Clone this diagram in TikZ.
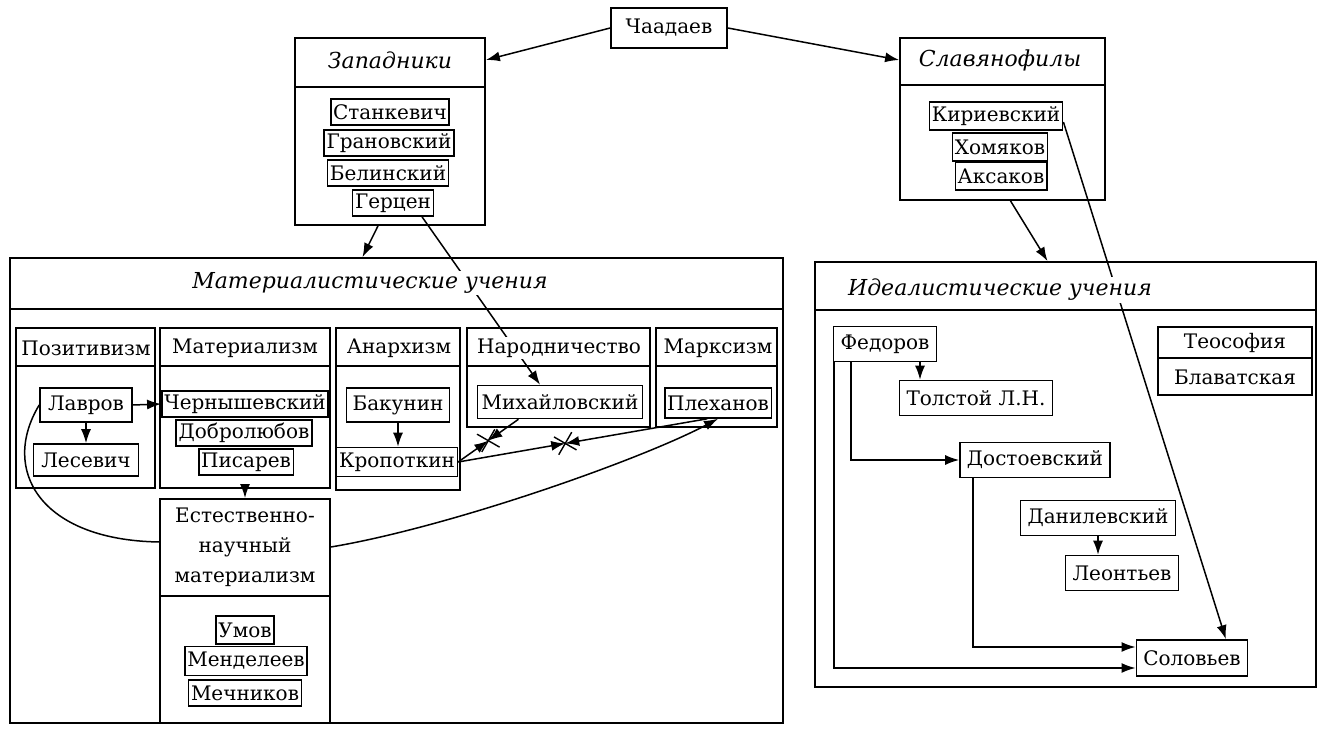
\documentclass[tikz,border=0pt]{standalone}
\usepackage{fontspec}
\setmainfont{DejaVu Serif}
\usetikzlibrary{arrows.meta,fit,calc,shapes.misc,backgrounds}

\tikzset{
  frame/.style={draw, inner sep=0pt, line width=0.9pt},
  person/.style={draw, fill=white, inner xsep=1.2pt, inner ysep=1pt, minimum height=13pt, line width=0.8pt},
  idea/.style={person, inner xsep=3.5pt, minimum height=17.5pt},
  heading/.style={fill=white, inner sep=1pt, font=\fontsize{11}{13}\selectfont\itshape},
  subhead/.style={fill=white, inner sep=1pt},
  link/.style={line width=0.75pt, -{Latex[length=7pt,width=5pt]}},
  wire/.style={line width=0.75pt},
  clash/.style={draw, cross out, minimum size=8.5pt, inner sep=0pt, line width=0.7pt, rotate=15},
}

\begin{document}
\begin{tikzpicture}[x=0.5pt,y=-0.5pt,every node/.style={font=\fontsize{10}{12}\selectfont}]
  \useasboundingbox (0,0) rectangle (1321,731);

  \node[person, inner xsep=6pt, minimum width=58pt, minimum height=20pt] (chaad) at (669,28) {Чаадаев};

  % Западники
  \node[frame, fit={(295,38) (485,225)}] (zap) {};
  \draw[frame] (295,87) -- (485,87);
  \node[heading] (zaph) at (390,60) {Западники};
  \node[person] (stank) at (390,112) {Станкевич};
  \node[person] (gran) at (389,143) {Грановский};
  \node[person] (belin) at (388,173) {Белинский};
  \node[person] (gerc) at (393,203) {Герцен};

  % Славянофилы
  \node[frame, fit={(900,38) (1105,200)}] (slav) {};
  \draw[frame] (900,85) -- (1105,85);
  \node[heading] (slavh) at (1000,60) {Славянофилы};
  \node[person, minimum height=14pt] (kir) at (996,116) {Кириевский};
  \node[person, minimum height=14pt] (khom) at (1000,147) {Хомяков};
  \node[person, minimum height=14pt] (aks) at (1001,176) {Аксаков};

  % Материалистические учения
  \node[frame, fit={(10,258) (783,723)}] (mat) {};
  \draw[frame] (10,309) -- (783,309);
  \node[heading] (math) at (370,283) {Материалистические учения};

  \node[frame, fit={(16,328) (155,488)}] (pos) {};
  \draw[frame] (16,366) -- (155,366);
  \node[subhead] (posh) at (86,348) {Позитивизм};
  \node[frame, fit={(160,328) (330,488)}] (mtr) {};
  \draw[frame] (160,366) -- (330,366);
  \node[subhead] (mtrh) at (245,348) {Материализм};
  \node[frame, fit={(336,328) (460,490)}] (anar) {};
  \draw[frame] (336,366) -- (460,366);
  \node[subhead] (anarh) at (399,348) {Анархизм};
  \node[frame, fit={(467,328) (650,427)}] (narod) {};
  \draw[frame] (467,366) -- (650,366);
  \node[subhead] (narodh) at (559,348) {Народничество};
  \node[frame, fit={(656,328) (777,427)}] (marx) {};
  \draw[frame] (656,366) -- (777,366);
  \node[subhead] (marxh) at (718,348) {Марксизм};

  \node[person, inner xsep=4pt, minimum height=17pt] (lav) at (86,405) {Лавров};
  \node[person, inner xsep=4pt, minimum height=16pt] (les) at (86,460) {Лесевич};
  \node[person] (chern) at (245,404) {Чернышевский};
  \node[person] (dobr) at (244,433) {Добролюбов};
  \node[person] (pis) at (246,462) {Писарев};
  \node[person, inner xsep=3pt, minimum height=17pt] (bak) at (398,405) {Бакунин};
  \node[person, minimum height=14.5pt] (krop) at (397,462) {Кропоткин};
  \node[person, inner xsep=2pt, minimum height=16.5pt] (mikh) at (560,402) {Михайловский};
  \node[person, minimum height=15pt] (plekh) at (718,403) {Плеханов};

  \node[frame, fit={(160,499) (330,723)}] (est) {};
  \draw[frame] (160,596) -- (330,596);
  \node[subhead, align=center, font=\fontsize{10}{15}\selectfont] (esth) at (245,547) {Естественно-\\научный\\материализм};
  \node[person, minimum height=14pt] (umov) at (245,630) {Умов};
  \node[person, minimum height=14.5pt] (mend) at (246,661) {Менделеев};
  \node[person] (mech) at (245,693) {Мечников};

  % Идеалистические учения
  \node[frame, fit={(815,262) (1316,687)}] (ideal) {};
  \draw[frame] (815,310) -- (1316,310);
  \node[heading] (idealh) at (1000,290) {Идеалистические учения};
  \node[idea] (fed) at (885,344) {Федоров};
  \node[idea] (tol) at (976,398) {Толстой Л.Н.};
  \node[idea] (dost) at (1035,460) {Достоевский};
  \node[idea] (dan) at (1098,518) {Данилевский};
  \node[idea] (leo) at (1122,573) {Леонтьев};
  \node[idea, minimum height=18pt] (sol) at (1192,658) {Соловьев};
  \node[frame, fit={(1158,327) (1312,395)}] (teo) {};
  \draw[frame] (1158,358) -- (1312,358);
  \node[subhead] (teoh) at (1235,343) {Теософия};
  \node[subhead] (blav) at (1235,377) {Блаватская};

  \coordinate (mikhS) at ($(mikh.south west)!0.25!(mikh.south east)$);
  \coordinate (mikhN) at ($(mikh.north west)!0.38!(mikh.north east)$);
  \coordinate (plekhS) at ($(plekh.south west)!0.4!(plekh.south east)$);
  \coordinate (solN) at ($(sol.north west)!0.8!(sol.north east)$);
  \coordinate (x1) at ($(krop.east)!0.5!(mikhS)$);
  \coordinate (x2) at ($(krop.east)!0.43!(plekhS)$);
  \node[clash] (cr1) at (x1) {};
  \node[clash] (cr2) at (x2) {};

  \begin{scope}[on background layer]
    \draw[link] (chaad.west) -- (zaph -| zap.east);
    \draw[link] (chaad.east) -- (slavh -| slav.west);
    \draw[link] ([xshift=-6pt]zap.south) -- ([xshift=-17pt]mat.north);
    \draw[link] ([xshift=4pt]slav.south) -- ([xshift=-9pt]ideal.north);
    \draw[link] ([xshift=14.5pt]gerc.south) -- (mikhN);
    \draw[link] ([yshift=-3pt]kir.east) -- (solN);

    \draw[link] (lav.east) -- (chern.west);
    \draw[link] (lav.south) -- (les.north);
    \draw[link] (mtr.south) -- (est.north);
    \draw[link] (bak.south) -- (bak.south |- krop.north);
    \draw[link] (krop.east) -- (x1);
    \draw[link] (mikhS) -- (x1);
    \draw[link] (krop.east) -- (x2);
    \draw[link] (plekhS) -- (x2);
    \draw[wire] (lav.west) .. controls (0,470) and (40,540) .. ([yshift=34.5pt]est.west);
    \draw[link] ([yshift=32pt]est.east) .. controls (450,527) and (640,460) .. (plekh.south);

    \draw[link] ([xshift=17.5pt]fed.south) -- ([xshift=17.5pt]fed.south |- tol.north);
    \draw[link] ([xshift=-17pt]fed.south) |- (dost.west);
    \draw[link] ([xshift=-25.5pt]fed.south) |- ([yshift=-5pt]sol.west);
    \draw[link] ([xshift=-31pt]dost.south) |- ([yshift=5.5pt]sol.west);
    \draw[link] (dan.south) -- (dan.south |- leo.north);
  \end{scope}
\end{tikzpicture}
\end{document}
